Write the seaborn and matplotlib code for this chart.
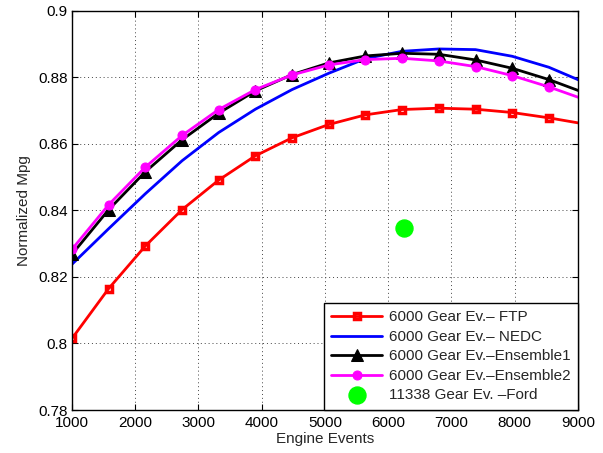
import numpy as np
import pandas as pd
import matplotlib
matplotlib.use("Agg")
import matplotlib.pyplot as plt
import seaborn as sns

# Data
engine_events = [1000, 1580, 2160, 2740, 3320, 3900, 4480, 5060, 5640, 6220, 6800, 7380, 7960, 8540, 9120]
ftp = [0.8015, 0.8165, 0.8293, 0.8402, 0.8491, 0.8564, 0.8618, 0.8658, 0.8687, 0.8703, 0.8707, 0.8704, 0.8694, 0.8678, 0.8659]
nedc = [0.8238, 0.8345, 0.8450, 0.8549, 0.8634, 0.8704, 0.8763, 0.8812, 0.8856, 0.8878, 0.8885, 0.8883, 0.8863, 0.8830, 0.8783]
ens1 = [0.8268, 0.8402, 0.8516, 0.8612, 0.8692, 0.8759, 0.8808, 0.8843, 0.8864, 0.8872, 0.8869, 0.8852, 0.8827, 0.8793, 0.8752]
ens2 = [0.8283, 0.8417, 0.8530, 0.8625, 0.8703, 0.8763, 0.8807, 0.8837, 0.8853, 0.8857, 0.8849, 0.8832, 0.8805, 0.8771, 0.8732]
ford_x = [6250]
ford_y = [0.8348]

labels = ["6000 Gear Ev.\u2013 FTP", "6000 Gear Ev.\u2013 NEDC", "6000 Gear Ev.\u2013Ensemble1",
          "6000 Gear Ev.\u2013Ensemble2", "11338 Gear Ev. \u2013Ford"]
xticks = [1000, 2000, 3000, 4000, 5000, 6000, 7000, 8000, 9000]
yticks = [0.78, 0.80, 0.82, 0.84, 0.86, 0.88, 0.90]
yticklabels = ["0.78", "0.8", "0.82", "0.84", "0.86", "0.88", "0.9"]

sns.set_theme(style="white")
plt.rcParams['font.family'] = ['Liberation Sans', 'DejaVu Sans']
plt.rcParams['font.size'] = 11

fig = plt.figure(figsize=(6.03, 4.53), dpi=100)
ax = fig.add_axes([0.1194, 0.0949, 0.8391, 0.8815])

sns.lineplot(x=engine_events, y=ftp, ax=ax, color="#ff0000", lw=2, marker="s", markersize=5,
             markerfacecolor="none", markeredgecolor="#ff0000", markeredgewidth=2.5, label=labels[0])
sns.lineplot(x=engine_events, y=nedc, ax=ax, color="#0000ff", lw=2, label=labels[1])
sns.lineplot(x=engine_events, y=ens1, ax=ax, color="black", lw=2, marker="^", markersize=8,
             markerfacecolor="black", markeredgecolor="black", label=labels[2])
sns.lineplot(x=engine_events, y=ens2, ax=ax, color="#ff00ff", lw=2, marker="o", markersize=6.5,
             markerfacecolor="#ff00ff", markeredgecolor="#ff00ff", label=labels[3])
sns.scatterplot(x=ford_x, y=ford_y, ax=ax, color="#00ff00", s=150, edgecolor="#00ff00", label=labels[4])

ax.set_xlim(1000, 9000)
ax.set_ylim(0.78, 0.9)
ax.set_xticks(xticks)
ax.set_yticks(yticks)
ax.set_yticklabels(yticklabels)
ax.set_xlabel("Engine Events", fontsize=11, labelpad=1.5)
ax.set_ylabel("Normalized Mpg", fontsize=11, labelpad=5)
ax.grid(True, linestyle=(0, (1, 3)), color="#444444", lw=0.7)
ax.tick_params(axis="both", direction="in", top=True, right=True, length=4, width=0.8, labelsize=11,
               colors="black", bottom=True, left=True)
ax.tick_params(axis="x", pad=4)
ax.tick_params(axis="y", pad=3)
for s in ax.spines.values():
    s.set_color("black")
    s.set_linewidth(1)

leg = ax.legend(loc="lower right", borderaxespad=0, fontsize=11, frameon=True, fancybox=False,
                edgecolor="black", framealpha=1, handlelength=3.3, labelspacing=0.36, borderpad=0.5,
                handletextpad=0.45)
leg.get_frame().set_linewidth(1)

fig.savefig("out.png", dpi=100, facecolor="white")
